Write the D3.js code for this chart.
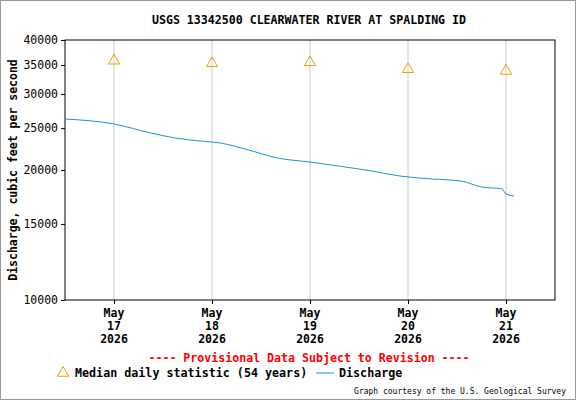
<!DOCTYPE html>
<html><head><script src="https://cdn.jsdelivr.net/npm/d3@7"></script>
<style>body{margin:0;background:#fff}text{font-family:"DejaVu Sans Mono",monospace}</style></head>
<body><svg id="c" width="576" height="400"></svg>
<script>
const title="USGS 13342500 CLEARWATER RIVER AT SPALDING ID";
const yLabel="Discharge, cubic feet per second";
const dayTicks=["2026-05-17","2026-05-18","2026-05-19","2026-05-20","2026-05-21"];
const yTicks=[10000,15000,20000,25000,30000,35000,40000];
const medianVals=[36000,35500,35700,34400,34100];
// hours from 2026-05-17 00:00, discharge
const dHours=[-12,0,9,15,21,26,33,40,48,55,63,70,78,85,90,95,96,98];
const dVals=[26250,25560,24360,23720,23350,23100,22250,21320,20870,20430,19900,19370,19060,18860,18270,18090,17600,17410];

const svg=d3.select("#c");
svg.append("rect").attr("x",0.5).attr("y",0.5).attr("width",575).attr("height",399).attr("fill","#fff").attr("stroke","#999");
const L=65,R=555,T=40,B=300;
const t0=new Date(2026,4,17);
const hr=h=>new Date(t0.getTime()+h*3600e3);
const x=d3.scaleTime().domain([hr(-12),hr(108)]).range([L,R]);
const y=d3.scaleLog().domain([10000,40000]).range([B,T]);
const days=dayTicks.map(s=>{const [a,b,c]=s.split("-");return new Date(+a,+b-1,+c);});
svg.selectAll(".g").data(days).enter().append("line").attr("x1",d=>x(d)).attr("x2",d=>x(d)).attr("y1",T).attr("y2",B).attr("stroke","#ccc");
svg.append("rect").attr("x",L).attr("y",T).attr("width",R-L).attr("height",B-T).attr("fill","none").attr("stroke","#000");
const ya=svg.append("g").attr("transform",`translate(${L},0)`).call(d3.axisLeft(y).tickValues(yTicks).tickFormat(d3.format("d")).tickSize(4));
ya.select(".domain").remove();
ya.selectAll("text").attr("font-size",11.5).attr("font-family","DejaVu Sans Mono").attr("fill","#000");
const xa=svg.append("g").attr("transform",`translate(0,${B})`).call(d3.axisBottom(x).tickValues(days).tickFormat("").tickSize(4));
xa.select(".domain").remove();
days.forEach(d=>{
  const t=svg.append("text").attr("x",x(d)).attr("text-anchor","middle").attr("font-size",11.5).attr("font-weight","bold");
  ["May",d.getDate(),"2026"].forEach((s,i)=>t.append("tspan").attr("x",x(d)).attr("y",317+i*13).text(s));
});
svg.append("text").attr("x",309).attr("y",24).attr("text-anchor","middle").attr("font-size",11.6).attr("font-weight","bold").text(title);
svg.append("text").attr("transform","translate(17,170) rotate(-90)").attr("text-anchor","middle").attr("font-size",11.5).attr("font-weight","bold").text(yLabel);
const line=d3.line().x((d,i)=>x(hr(dHours[i]))).y(d=>y(d)).curve(d3.curveMonotoneX);
svg.append("path").datum(dVals).attr("d",line).attr("fill","none").attr("stroke","#1f8fd6").attr("stroke-width",1);
const tri=d3.symbol().type(d3.symbolTriangle).size(55);
svg.selectAll(".m").data(medianVals).enter().append("path").attr("d",tri)
 .attr("transform",(d,i)=>`translate(${x(days[i])},${y(d)+1})`).attr("fill","none").attr("stroke","#f0a000");
svg.append("text").attr("x",309).attr("y",362).attr("text-anchor","middle").attr("font-size",11.6).attr("font-weight","bold").attr("fill","#f00").text("---- Provisional Data Subject to Revision ----");
svg.append("path").attr("d",tri).attr("transform","translate(63,373)").attr("fill","none").attr("stroke","#f0a000");
svg.append("text").attr("x",75).attr("y",377).attr("font-size",11.7).attr("font-weight","bold").text("Median daily statistic (54 years)");
svg.append("line").attr("x1",316).attr("x2",334).attr("y1",373).attr("y2",373).attr("stroke","#1f8fd6");
svg.append("text").attr("x",339).attr("y",377).attr("font-size",11.7).attr("font-weight","bold").text("Discharge");
svg.append("text").attr("x",566).attr("y",394).attr("text-anchor","end").attr("font-size",8).text("Graph courtesy of the U.S. Geological Survey");
</script></body></html>
